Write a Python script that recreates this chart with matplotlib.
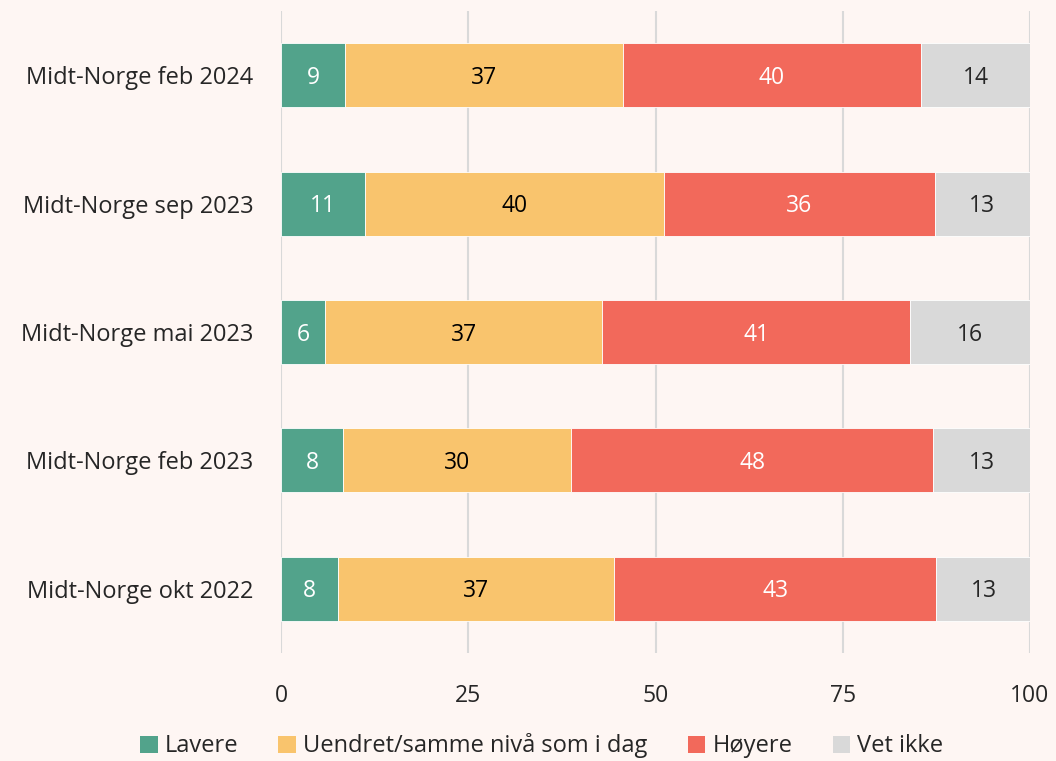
import matplotlib
matplotlib.use("Agg")
import matplotlib.pyplot as plt
from matplotlib.patches import Patch

plt.rcParams['font.family'] = ['Open Sans', 'DejaVu Sans']

# Categories (top to bottom) and series values in percent
categories = ["Midt-Norge feb 2024", "Midt-Norge sep 2023", "Midt-Norge mai 2023",
              "Midt-Norge feb 2023", "Midt-Norge okt 2022"]
lavere = [8.6, 11.2, 5.9, 8.3, 7.6]
uendret = [37.0, 39.9, 37.0, 30.4, 36.9]
hoyere = [39.9, 36.2, 41.1, 48.4, 43.0]
vet_ikke = [14.5, 12.7, 16.0, 12.9, 12.6]

series_names = ["Lavere", "Uendret/samme nivå som i dag", "Høyere", "Vet ikke"]
colors = ["#52A38B", "#F9C46D", "#F2695B", "#D9D9D9"]
text_colors = ["white", "black", "white", "#262626"]

bg = "#FEF6F3"
fig = plt.figure(figsize=(10.56, 7.61), dpi=100, facecolor=bg)
ax = fig.add_axes([281 / 1056, 1 - 653 / 761, (1030 - 281) / 1056, (653 - 11) / 761])
ax.set_facecolor(bg)

y = list(range(len(categories)))
left = [0] * len(categories)
for name, vals, c, tc in zip(series_names, [lavere, uendret, hoyere, vet_ikke], colors, text_colors):
    bars = ax.barh(y, vals, left=left, height=0.5, color=c, edgecolor="#FFFFFF",
                   linewidth=0.6, zorder=3)
    # centre labels, nudged a little down like the original
    for b, v in zip(bars, vals):
        ax.text(b.get_x() + b.get_width() / 2, b.get_y() + b.get_height() / 2 + 0.02,
                "%.0f" % v, ha="center", va="center", color=tc, fontsize=16.5, zorder=4)
    left = [l + v for l, v in zip(left, vals)]

ax.set_ylim(len(categories) - 0.5, -0.5)
ax.set_xlim(0, 100)
ax.set_yticks(y)
ax.set_yticklabels(categories, fontsize=17, color="#262626")
ax.set_xticks([0, 25, 50, 75, 100])
ax.tick_params(axis="x", labelsize=16.5, colors="#262626", length=0, pad=22)
ax.tick_params(axis="y", length=0, pad=20)
ax.grid(axis="x", color="#D9D9D9", linewidth=1.5, zorder=0)
for s in ax.spines.values():
    s.set_visible(False)

handles = [Patch(facecolor=c, label=n) for n, c in zip(series_names, colors)]
fig.legend(handles=handles, loc="center", bbox_to_anchor=(0.513, 15 / 761),
           ncol=4, frameon=False, fontsize=17, handlelength=0.75, handleheight=0.75,
           handletextpad=0.3, columnspacing=1.7, labelcolor="#262626")

fig.savefig("out.png", dpi=100, facecolor=bg)
